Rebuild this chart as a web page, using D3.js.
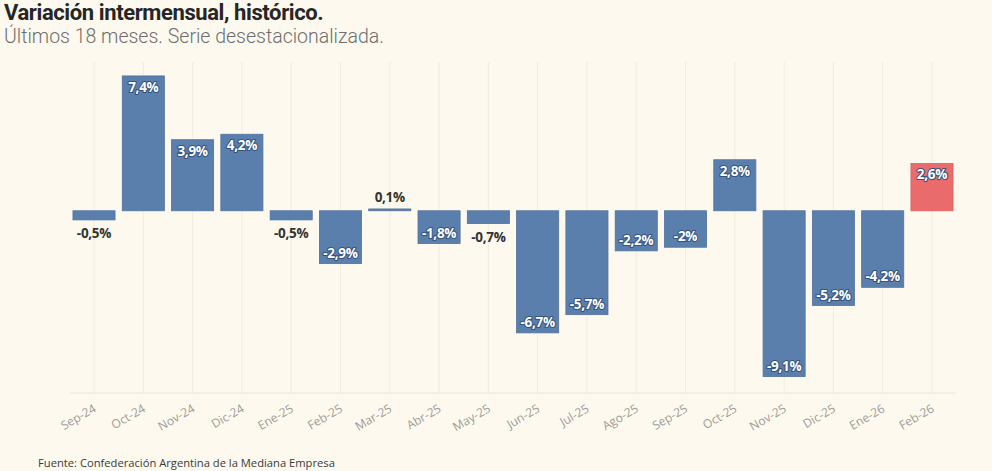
<!DOCTYPE html>
<html lang="es">
<head>
<meta charset="UTF-8" />
<title>Variación intermensual</title>
<script src="https://d3js.org/d3.v7.min.js"></script>
<style>
  body { margin: 0; background: #fdf9ef; }
  svg { display: block; font-family: "Open Sans", sans-serif; }
</style>
</head>
<body>
<svg id="chart"></svg>
<script>
  // datos
  var months = ["Sep-24", "Oct-24", "Nov-24", "Dic-24", "Ene-25", "Feb-25", "Mar-25", "Abr-25", "May-25",
                "Jun-25", "Jul-25", "Ago-25", "Sep-25", "Oct-25", "Nov-25", "Dic-25", "Ene-26", "Feb-26"];
  var values = [-0.5, 7.4, 3.9, 4.2, -0.5, -2.9, 0.1, -1.8, -0.7, -6.7, -5.7, -2.2, -2, 2.8, -9.1, -5.2, -4.2, 2.6];
  var labels = ["-0,5%", "7,4%", "3,9%", "4,2%", "-0,5%", "-2,9%", "0,1%", "-1,8%", "-0,7%",
                "-6,7%", "-5,7%", "-2,2%", "-2%", "2,8%", "-9,1%", "-5,2%", "-4,2%", "2,6%"];

  var width = 992, height = 471;
  var data = months.map(function (m, i) { return { month: m, value: values[i], label: labels[i] }; });

  var svg = d3.select("#chart").attr("width", width).attr("height", height);

  svg.append("rect").attr("width", width).attr("height", height).attr("fill", "#fdf9ef");

  var x = d3.scaleBand()
      .domain(months)
      .range([70, 956])
      .paddingInner(0.146)
      .paddingOuter(0.06);

  var y = d3.scaleLinear()
      .domain([-10, 8])
      .range([393, 65]);

  // lineas verticales tenues
  svg.append("g").selectAll("line")
      .data(months)
      .enter()
      .append("line")
      .attr("x1", function (d) { return x(d) + x.bandwidth() / 2; })
      .attr("x2", function (d) { return x(d) + x.bandwidth() / 2; })
      .attr("y1", 62)
      .attr("y2", 393)
      .attr("stroke", "#f1ece0")
      .attr("stroke-width", 1);

  svg.append("line")
      .attr("x1", 70).attr("x2", 956)
      .attr("y1", y(-10)).attr("y2", y(-10))
      .attr("stroke", "#ebe6da");

  // barras
  svg.append("g").selectAll("rect")
      .data(data)
      .enter()
      .append("rect")
      .attr("x", function (d) { return x(d.month); })
      .attr("y", function (d) { return y(Math.max(0, d.value)); })
      .attr("width", x.bandwidth())
      .attr("height", function (d) { return Math.abs(y(d.value) - y(0)); })
      .attr("fill", function (d, i) { return i === data.length - 1 ? "#e96b6b" : "#5b7fad"; })
      .attr("stroke", function (d, i) { return i === data.length - 1 ? "#de5e5e" : "#4f729f"; })
      .attr("stroke-width", 0.8);

  // etiquetas de valores
  var small = function (d) { return Math.abs(d.value) < 1; };

  svg.append("g").selectAll("text")
      .data(data)
      .enter()
      .append("text")
      .attr("x", function (d) { return x(d.month) + x.bandwidth() / 2; })
      .attr("y", function (d) {
        if (small(d)) return d.value >= 0 ? y(d.value) - 7 : y(d.value) + 18;
        return d.value >= 0 ? y(d.value) + 16 : y(d.value) - 6;
      })
      .attr("text-anchor", "middle")
      .attr("font-size", 13.5)
      .attr("font-weight", 700)
      .attr("letter-spacing", -0.3)
      .attr("fill", function (d) { return small(d) ? "#333" : "#fff"; })
      .attr("stroke", function (d) { return small(d) ? "none" : "#34547f"; })
      .attr("stroke-width", 2.2)
      .attr("paint-order", "stroke")
      .attr("stroke-linejoin", "round")
      .text(function (d) { return d.label; });

  // eje x
  svg.append("g").selectAll("text")
      .data(months)
      .enter()
      .append("text")
      .attr("transform", function (d) {
        return "translate(" + (x(d) + x.bandwidth() / 2 + 3) + ",411) rotate(-30)";
      })
      .attr("text-anchor", "end")
      .attr("font-size", 12)
      .attr("fill", "#9e9c96")
      .text(function (d) { return d; });

  // titulos
  svg.append("text")
      .attr("x", 4).attr("y", 20)
      .attr("font-size", 22)
      .attr("font-weight", 700)
      .attr("letter-spacing", -0.4)
      .attr("fill", "#262626")
      .attr("font-family", "Roboto, sans-serif")
      .text("Variación intermensual, histórico.");

  svg.append("text")
      .attr("x", 4).attr("y", 43)
      .attr("font-size", 19.5)
      .attr("font-weight", 300)
      .attr("fill", "#6e6e6e")
      .attr("font-family", "Roboto, sans-serif")
      .text("Últimos 18 meses. Serie desestacionalizada.");

  svg.append("text")
      .attr("x", 38).attr("y", 467)
      .attr("font-size", 11.2)
      .attr("fill", "#3a3a3a")
      .text("Fuente: Confederación Argentina de la Mediana Empresa");
</script>
</body>
</html>
